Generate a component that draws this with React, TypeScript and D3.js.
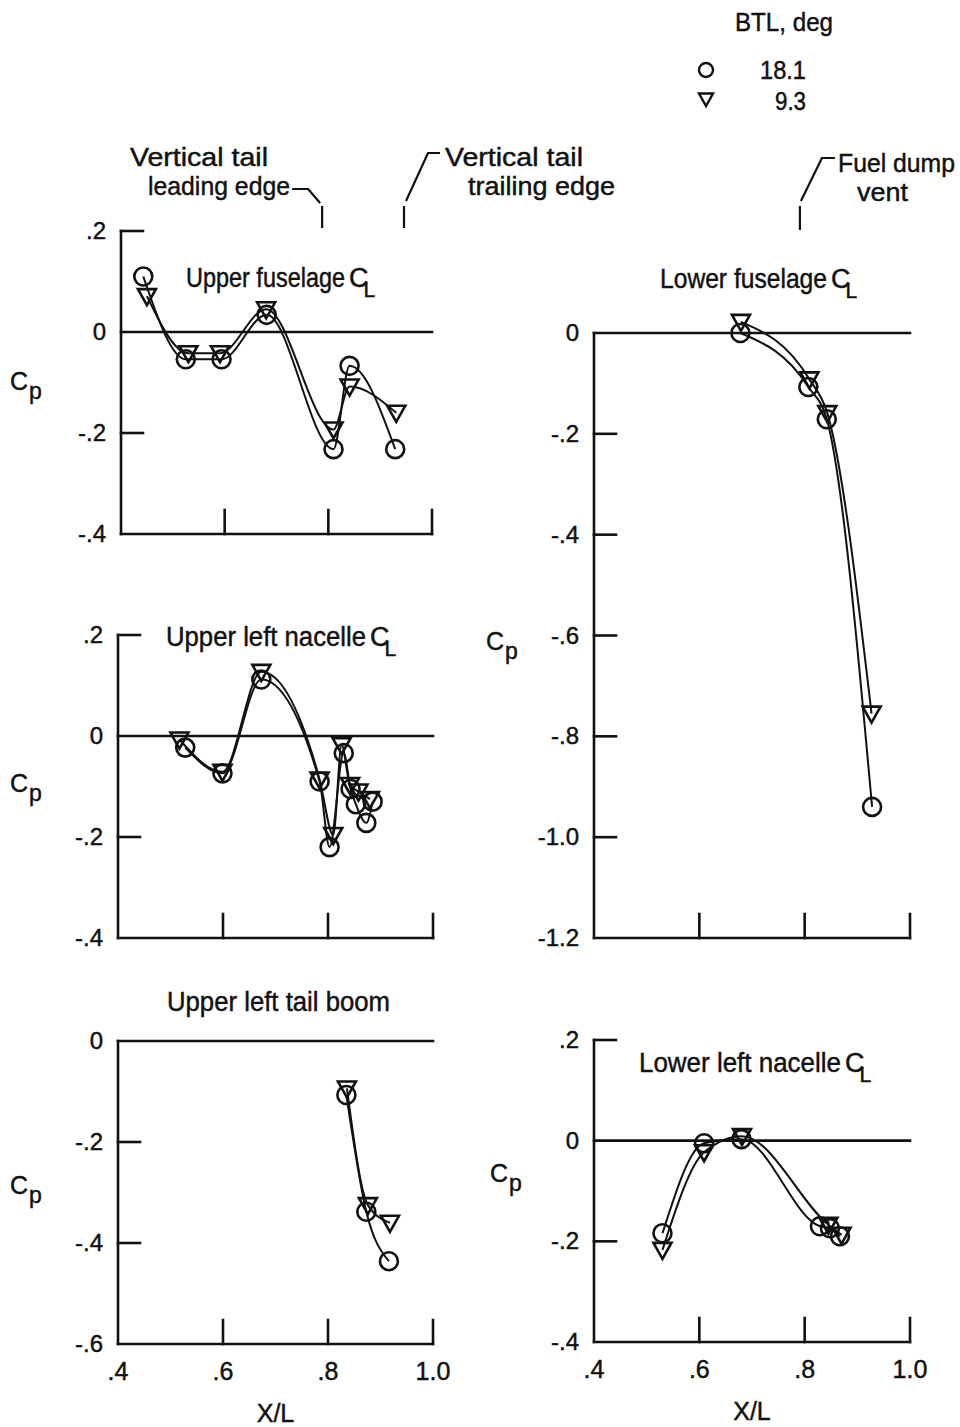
import React from "react";
import * as d3 from "d3";

type Pt = [number, number];

// Legend values (BTL, deg)
const btlValues = ["18.1", "9.3"];

// X/L tick values shared by all panels
const xTicks = [0.4, 0.6, 0.8, 1.0];

// Upper fuselage centerline
const upperFuselageCirc: Pt[] = [[0.443, 0.11], [0.525, -0.054], [0.594, -0.054], [0.681, 0.034], [0.81, -0.232], [0.841, -0.067], [0.929, -0.232]];
const upperFuselageTri: Pt[] = [[0.45, 0.071], [0.53, -0.042], [0.591, -0.042], [0.68, 0.045], [0.81, -0.193], [0.841, -0.108], [0.931, -0.16]];
const upperFuselageTicks = [0.2, 0, -0.2, -0.4];

// Upper left nacelle centerline
const upperNacelleCirc: Pt[] = [[0.528, -0.023], [0.599, -0.074], [0.673, 0.112], [0.784, -0.09], [0.803, -0.22], [0.83, -0.034], [0.843, -0.105], [0.853, -0.135], [0.873, -0.172], [0.885, -0.13]];
const upperNacelleTri: Pt[] = [[0.517, -0.007], [0.599, -0.071], [0.673, 0.127], [0.784, -0.086], [0.81, -0.196], [0.826, -0.018], [0.842, -0.097], [0.858, -0.11], [0.88, -0.125]];
const upperNacelleTicks = [0.2, 0, -0.2, -0.4];

// Upper left tail boom
const tailBoomCirc: Pt[] = [[0.835, -0.107], [0.873, -0.338], [0.916, -0.436]];
const tailBoomTri: Pt[] = [[0.836, -0.094], [0.876, -0.325], [0.918, -0.36]];
const tailBoomTicks = [0, -0.2, -0.4, -0.6];

// Lower fuselage centerline
const lowerFuselageCirc: Pt[] = [[0.678, 0.0], [0.807, -0.107], [0.842, -0.171], [0.928, -0.94]];
const lowerFuselageTri: Pt[] = [[0.679, 0.022], [0.809, -0.092], [0.843, -0.159], [0.927, -0.755]];
const lowerFuselageTicks = [0, -0.2, -0.4, -0.6, -0.8, -1.0, -1.2];

// Lower left nacelle centerline
const lowerNacelleCirc: Pt[] = [[0.53, -0.184], [0.609, -0.005], [0.68, 0.003], [0.829, -0.17], [0.848, -0.174], [0.867, -0.19]];
const lowerNacelleTri: Pt[] = [[0.53, -0.217], [0.609, -0.023], [0.681, 0.009], [0.845, -0.167], [0.87, -0.187]];
const lowerNacelleTicks = [0.2, 0, -0.2, -0.4];

// Station markers along X/L
const tailLeadingEdge = 0.788;
const tailTrailingEdge = 0.946;
const fuelDumpVent = 0.791;

const FONT = "'Liberation Sans Narrow','Arial Narrow','Liberation Sans',Arial,sans-serif";
const INK = "#111";

const fmt = (v: number) => {
  if (v === 0) return "0";
  const s = Math.abs(v).toFixed(1).replace(/^0/, "");
  return (v < 0 ? "-" : "") + s;
};

function T(props: { x: number; y: number; s: string; size?: number; w?: number; anchor?: "start" | "middle" | "end" }) {
  const { x, y, s, size = 26, w, anchor = "start" } = props;
  return (
    <text
      x={x}
      y={y}
      fontSize={size}
      fontFamily={FONT}
      fill={INK}
      stroke={INK}
      strokeWidth={0.45}
      textAnchor={anchor}
      textLength={w}
      lengthAdjust={w ? "spacingAndGlyphs" : undefined}
    >
      {s}
    </text>
  );
}

// Panel title followed by the centerline symbol (a C with an L set low at its right)
function Title({ x, y, s, w, cl }: { x: number; y: number; s: string; w: number; cl: boolean }) {
  return (
    <text x={x} y={y} fontSize={27} fontFamily={FONT} fill={INK} stroke={INK} strokeWidth={0.45}>
      <tspan textLength={w} lengthAdjust="spacingAndGlyphs">{s}</tspan>
      {cl && <tspan dx={4}>C</tspan>}
      {cl && (
        <tspan dx={-5} dy={10} fontSize={21}>
          L
        </tspan>
      )}
    </text>
  );
}

const triPath = "M-9,-7L9,-7L0,9Z";

interface PanelProps {
  title: string;
  cl: boolean;
  titleX: number;
  titleY: number;
  titleW: number;
  xPx: [number, number];
  yDom: [number, number];
  yPx: [number, number];
  ticks: number[];
  circ: Pt[];
  tri: Pt[];
  cp: [number, number];
  showX: boolean;
}

function Panel(p: PanelProps) {
  const x = d3.scaleLinear().domain([0.4, 1.0]).range(p.xPx);
  const y = d3.scaleLinear().domain(p.yDom).range(p.yPx);
  const line = d3
    .line<Pt>()
    .x((d) => x(d[0]))
    .y((d) => y(d[1]))
    .curve(d3.curveMonotoneX);
  const x0 = p.xPx[0];
  const x1 = p.xPx[1];
  const yTop = p.yPx[0];
  const yBot = p.yPx[1];
  const tickLen = 22;
  return (
    <g>
      {/* axes */}
      <g stroke={INK} strokeWidth={2.6} fill="none" strokeLinecap="square">
        <line x1={x0} y1={yTop} x2={x0} y2={yBot} />
        <line x1={x0} y1={yBot} x2={x1} y2={yBot} />
        {p.ticks.map((t) =>
          t === 0 ? (
            <line key={t} x1={x0} y1={y(0)} x2={x1} y2={y(0)} />
          ) : t === p.yDom[1] ? null : (
            <line key={t} x1={x0} y1={y(t)} x2={x0 + tickLen} y2={y(t)} />
          )
        )}
        {xTicks.slice(1).map((t) => (
          <line key={t} x1={x(t)} y1={yBot} x2={x(t)} y2={yBot - 24} />
        ))}
      </g>
      {/* y tick labels */}
      {p.ticks.map((t) => (
        <T key={t} x={x0 - 15} y={y(t) + 8} s={fmt(t)} size={24} anchor="end" />
      ))}
      {/* Cp label */}
      <text x={p.cp[0]} y={p.cp[1]} fontSize={25} fontFamily={FONT} fill={INK} stroke={INK} strokeWidth={0.45}>
        C
        <tspan dx={1} dy={9} fontSize={23}>
          p
        </tspan>
      </text>
      {/* title */}
      <Title x={p.titleX} y={p.titleY} s={p.title} w={p.titleW} cl={p.cl} />
      {/* faired curves */}
      <g fill="none" stroke={INK} strokeWidth={2}>
        <path d={line(p.circ) || ""} />
        <path d={line(p.tri) || ""} />
      </g>
      {/* symbols */}
      <g fill="none" stroke={INK} strokeWidth={2.6}>
        {p.tri.map((d, i) => (
          <path key={"t" + i} d={triPath} transform={`translate(${x(d[0])},${y(d[1])})`} />
        ))}
        {p.circ.map((d, i) => (
          <circle key={"c" + i} cx={x(d[0])} cy={y(d[1])} r={9} />
        ))}
      </g>
      {/* x tick labels */}
      {p.showX && (
        <g>
          {xTicks.map((t) => (
            <T key={t} x={x(t)} y={yBot + 36} s={fmt(t)} size={25} anchor="middle" />
          ))}
          <T x={(x0 + x1) / 2} y={yBot + 78} s="X/L" size={25} anchor="middle" />
        </g>
      )}
    </g>
  );
}

export default function App() {
  const leftTop: [number, number] = [121, 432];
  const left: [number, number] = [118, 433];
  const right: [number, number] = [594, 910];
  const xUpper = d3.scaleLinear().domain([0.4, 1.0]).range(leftTop);
  const xRight = d3.scaleLinear().domain([0.4, 1.0]).range(right);
  const le = xUpper(tailLeadingEdge);
  const te = xUpper(tailTrailingEdge);
  const fv = xRight(fuelDumpVent);
  return (
    <svg width={960} height={1427} style={{ display: "block", position: "absolute", left: 0, top: 0, background: "#fff" }}>
      <rect width={960} height={1427} fill="#fff" />
      {/* legend */}
      <T x={735} y={31} s="BTL, deg" w={98} />
      <circle cx={706} cy={70} r={7} fill="none" stroke={INK} strokeWidth={2.4} />
      <T x={806} y={79} s={btlValues[0]} anchor="end" w={46} />
      <path d="M-7,-5.5L7,-5.5L0,7Z" transform="translate(706,99)" fill="none" stroke={INK} strokeWidth={2.4} />
      <T x={806} y={110} s={btlValues[1]} anchor="end" w={31} />

      {/* station annotations */}
      <T x={130} y={166} s="Vertical tail" w={138} />
      <T x={148} y={195} s="leading edge" w={142} />
      <g stroke={INK} strokeWidth={2.2} fill="none">
        <path d={`M${le - 30},189H${le - 14}L${le - 2},203`} />
        <line x1={le} y1={206} x2={le} y2={228} />
        <path d={`M${te + 36},153H${te + 24}L${te + 2},201`} />
        <line x1={te} y1={206} x2={te} y2={228} />
        <path d={`M${fv + 35},158H${fv + 22}L${fv + 1},201`} />
        <line x1={fv} y1={206} x2={fv} y2={230} />
      </g>
      <T x={445} y={166} s="Vertical tail" w={138} />
      <T x={468} y={195} s="trailing edge" w={147} />
      <T x={838} y={172} s="Fuel dump" w={117} />
      <T x={857} y={201} s="vent" w={51} />

      <Panel
        title="Upper fuselage"
        cl
        titleX={186}
        titleY={287}
        titleW={159}
        xPx={leftTop}
        yDom={[0.2, -0.4]}
        yPx={[231, 534]}
        ticks={upperFuselageTicks}
        circ={upperFuselageCirc}
        tri={upperFuselageTri}
        cp={[10, 390]}
        showX={false}
      />
      <Panel
        title="Upper left nacelle"
        cl
        titleX={166}
        titleY={646}
        titleW={200}
        xPx={left}
        yDom={[0.2, -0.4]}
        yPx={[635, 938]}
        ticks={upperNacelleTicks}
        circ={upperNacelleCirc}
        tri={upperNacelleTri}
        cp={[10, 792]}
        showX={false}
      />
      <Panel
        title="Upper left tail boom"
        cl={false}
        titleX={167}
        titleY={1011}
        titleW={223}
        xPx={left}
        yDom={[0, -0.6]}
        yPx={[1041, 1344]}
        ticks={tailBoomTicks}
        circ={tailBoomCirc}
        tri={tailBoomTri}
        cp={[10, 1194]}
        showX={true}
      />
      <Panel
        title="Lower fuselage"
        cl
        titleX={660}
        titleY={288}
        titleW={167}
        xPx={right}
        yDom={[0, -1.2]}
        yPx={[333, 938]}
        ticks={lowerFuselageTicks}
        circ={lowerFuselageCirc}
        tri={lowerFuselageTri}
        cp={[486, 650]}
        showX={false}
      />
      <Panel
        title="Lower left nacelle"
        cl
        titleX={639}
        titleY={1072}
        titleW={202}
        xPx={right}
        yDom={[0.2, -0.4]}
        yPx={[1040, 1342]}
        ticks={lowerNacelleTicks}
        circ={lowerNacelleCirc}
        tri={lowerNacelleTri}
        cp={[490, 1182]}
        showX={true}
      />
    </svg>
  );
}
